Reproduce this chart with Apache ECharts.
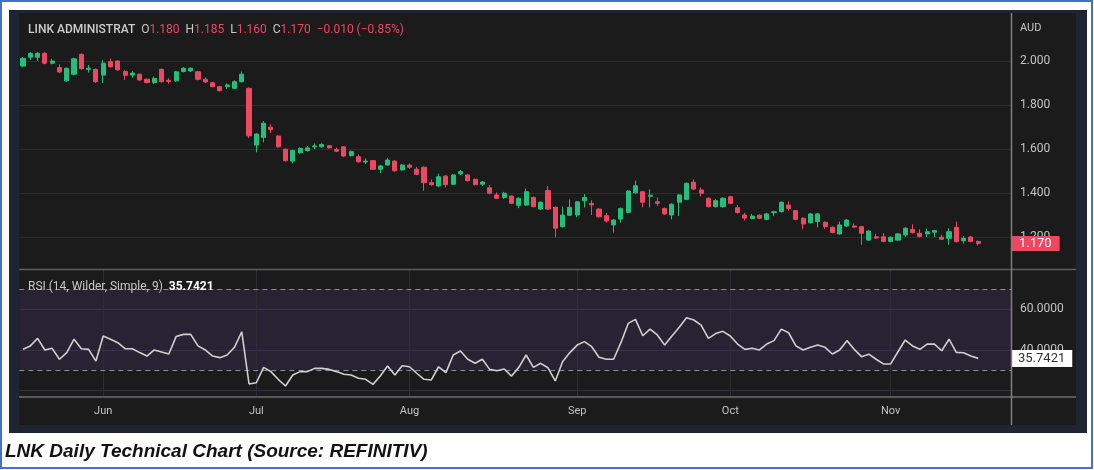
<!DOCTYPE html>
<html><head><meta charset="utf-8">
<script src="https://cdn.jsdelivr.net/npm/echarts@6/dist/echarts.min.js"></script>
<style>html,body{margin:0;padding:0;background:#fff}#c{width:1094px;height:470px}</style>
</head><body><div id="c"></div>
<script>
// ---------- DATA ----------
const datesMay = ['2023-05-17','2023-05-18','2023-05-19','2023-05-22','2023-05-23','2023-05-24','2023-05-25','2023-05-26','2023-05-29','2023-05-30','2023-05-31'];
const datesJun = ['2023-06-01','2023-06-02','2023-06-05','2023-06-06','2023-06-07','2023-06-08','2023-06-09','2023-06-13','2023-06-14','2023-06-15','2023-06-16','2023-06-19','2023-06-20','2023-06-21','2023-06-22','2023-06-23','2023-06-26','2023-06-27','2023-06-28','2023-06-29','2023-06-30'];
const datesJul = ['2023-07-03','2023-07-04','2023-07-05','2023-07-06','2023-07-07','2023-07-10','2023-07-11','2023-07-12','2023-07-13','2023-07-14','2023-07-17','2023-07-18','2023-07-19','2023-07-20','2023-07-21','2023-07-24','2023-07-25','2023-07-26','2023-07-27','2023-07-28','2023-07-31'];
const datesAug = ['2023-08-01','2023-08-02','2023-08-03','2023-08-04','2023-08-07','2023-08-08','2023-08-09','2023-08-10','2023-08-11','2023-08-14','2023-08-15','2023-08-16','2023-08-17','2023-08-18','2023-08-21','2023-08-22','2023-08-23','2023-08-24','2023-08-25','2023-08-28','2023-08-29','2023-08-30','2023-08-31'];
const datesSep = ['2023-09-01','2023-09-04','2023-09-05','2023-09-06','2023-09-07','2023-09-08','2023-09-11','2023-09-12','2023-09-13','2023-09-14','2023-09-15','2023-09-18','2023-09-19','2023-09-20','2023-09-21','2023-09-22','2023-09-25','2023-09-26','2023-09-27','2023-09-28','2023-09-29'];
const datesOct = ['2023-10-02','2023-10-03','2023-10-04','2023-10-05','2023-10-06','2023-10-09','2023-10-10','2023-10-11','2023-10-12','2023-10-13','2023-10-16','2023-10-17','2023-10-18','2023-10-19','2023-10-20','2023-10-23','2023-10-24','2023-10-25','2023-10-26','2023-10-27','2023-10-30','2023-10-31'];
const datesNov = ['2023-11-01','2023-11-02','2023-11-03','2023-11-06','2023-11-07','2023-11-08','2023-11-09','2023-11-10','2023-11-13','2023-11-14','2023-11-15','2023-11-16','2023-11-17'];
const emptySlots = ['2023-11-20','2023-11-21','2023-11-22','2023-11-23'];

const opens = [1.977,2.017,2.017,2.035,1.990,1.970,1.910,1.940,2.030,1.962,1.962,1.936,1.997,2.000,1.952,1.936,1.940,1.917,1.902,1.962,1.912,1.910,1.952,1.955,1.951,1.917,1.901,1.883,1.884,1.876,1.906,
1.876,1.618,1.653,1.699,1.659,1.599,1.545,1.583,1.593,1.610,1.610,1.615,1.598,1.610,1.570,1.565,1.541,1.547,1.508,1.527,1.545,1.505,1.527,1.508,1.517,1.447,1.432,1.477,1.440,1.487,1.482,1.462,1.440,
1.424,1.391,1.380,1.386,1.344,1.345,1.380,1.327,1.411,1.335,1.247,1.299,1.300,1.365,1.353,1.327,1.297,1.255,1.282,1.312,1.401,1.406,1.385,1.360,1.330,1.300,1.358,1.371,1.449,1.414,1.376,1.338,1.338,
1.383,1.333,1.300,1.284,1.299,1.280,1.311,1.315,1.345,1.320,1.285,1.265,1.270,1.267,1.244,1.214,1.250,1.250,1.247,1.186,1.201,1.201,1.180,1.186,1.209,1.235,1.217,1.214,1.222,1.199,1.194,1.244,1.183,1.200,1.180];
const closes = [2.012,2.035,2.035,1.990,2.000,1.950,1.967,2.010,1.965,1.967,1.906,1.990,1.974,1.960,1.935,1.945,1.914,1.902,1.921,1.906,1.907,1.951,1.967,1.967,1.917,1.905,1.884,1.865,1.891,1.906,1.940,
1.660,1.668,1.717,1.688,1.610,1.547,1.593,1.603,1.605,1.614,1.621,1.605,1.590,1.568,1.588,1.542,1.545,1.508,1.523,1.550,1.501,1.527,1.517,1.485,1.447,1.438,1.474,1.438,1.482,1.497,1.456,1.438,1.450,
1.399,1.376,1.399,1.353,1.376,1.406,1.338,1.358,1.327,1.240,1.300,1.335,1.360,1.379,1.346,1.292,1.273,1.277,1.330,1.409,1.433,1.358,1.390,1.353,1.305,1.349,1.391,1.444,1.418,1.399,1.338,1.365,1.376,
1.353,1.311,1.286,1.295,1.285,1.305,1.315,1.358,1.330,1.280,1.259,1.305,1.305,1.247,1.221,1.255,1.277,1.245,1.217,1.227,1.195,1.180,1.199,1.214,1.240,1.220,1.202,1.224,1.229,1.190,1.224,1.179,1.194,1.180,1.170];
const highs = [2.018,2.040,2.040,2.040,2.010,1.985,1.970,2.015,2.035,1.982,1.965,2.005,2.012,2.003,1.958,1.955,1.943,1.920,1.930,1.966,1.922,1.955,1.972,1.970,1.955,1.925,1.905,1.886,1.898,1.912,1.952,
1.880,1.672,1.727,1.712,1.662,1.602,1.597,1.607,1.614,1.625,1.626,1.618,1.606,1.613,1.594,1.575,1.557,1.550,1.527,1.560,1.549,1.532,1.534,1.518,1.521,1.462,1.488,1.481,1.486,1.505,1.486,1.466,1.455,
1.436,1.403,1.405,1.390,1.380,1.421,1.384,1.362,1.433,1.339,1.338,1.371,1.364,1.395,1.367,1.331,1.310,1.281,1.334,1.413,1.456,1.410,1.417,1.380,1.334,1.353,1.395,1.448,1.462,1.425,1.380,1.372,1.380,
1.387,1.345,1.310,1.305,1.303,1.309,1.319,1.362,1.362,1.324,1.289,1.309,1.309,1.271,1.248,1.270,1.281,1.262,1.251,1.231,1.215,1.218,1.203,1.218,1.244,1.258,1.235,1.238,1.233,1.210,1.240,1.270,1.205,1.204,1.185];
const lows = [1.972,2.005,2.000,1.985,1.985,1.945,1.905,1.935,1.960,1.947,1.900,1.900,1.970,1.955,1.914,1.925,1.910,1.898,1.895,1.902,1.897,1.905,1.948,1.950,1.912,1.900,1.880,1.862,1.873,1.872,1.902,
1.650,1.585,1.630,1.672,1.606,1.543,1.535,1.579,1.588,1.600,1.606,1.601,1.586,1.563,1.566,1.538,1.532,1.504,1.490,1.524,1.497,1.501,1.510,1.481,1.410,1.433,1.428,1.425,1.436,1.480,1.452,1.434,1.432,
1.395,1.372,1.373,1.349,1.331,1.341,1.334,1.323,1.323,1.199,1.243,1.295,1.290,1.335,1.300,1.288,1.265,1.220,1.265,1.308,1.397,1.335,1.335,1.340,1.301,1.280,1.295,1.367,1.414,1.385,1.334,1.334,1.334,
1.349,1.307,1.275,1.280,1.281,1.276,1.295,1.311,1.320,1.276,1.235,1.261,1.244,1.237,1.217,1.210,1.246,1.241,1.164,1.182,1.191,1.176,1.176,1.182,1.200,1.216,1.198,1.200,1.200,1.186,1.164,1.175,1.170,1.176,1.160];

const rsiValues = [40.2,41.9,45.6,39.9,40.7,35.3,38.6,45.2,40.5,40.2,34.4,46.8,45.2,43.5,40.5,40.5,38.6,36.9,39.9,38.9,37.9,46.5,47.6,47.6,41.9,39.9,36.9,36.1,37.4,41.2,48.9,
23.1,23.7,31.3,29.2,25.4,22.1,27.5,29.2,29.2,30.8,30.8,30.3,29.2,27.9,27.5,25.9,25.4,
22.9,27.0,32.0,27.5,32.1,31.6,28.4,25.4,25.1,31.6,28.7,37.4,39.4,35.3,33.3,35.3,30.3,29.6,30.5,27.0,31.3,37.4,31.3,33.3,31.1,24.6,34.1,38.6,42.3,44.0,41.5,36.3,35.3,35.3,43.5,53.0,55.0,46.9,50.2,47.3,42.3,46.8,51.1,55.8,54.7,52.2,45.6,48.0,49.1,
46.8,42.8,40.2,40.7,39.9,42.8,44.5,50.2,48.4,41.9,39.9,41.2,42.3,41.2,37.9,39.9,44.5,40.2,36.6,37.8,35.3,33.0,33.0,39.0,44.8,41.9,40.2,42.8,42.8,39.5,45.2,38.7,38.5,36.9,35.7421];

const priceTickMin = 1.0, priceTickMax = 2.2, priceTickStep = 0.2;
const pricePaneTop = 2.218, pricePaneBottom = 1.059;
const rsiTickMin = 0, rsiTickMax = 80, rsiTickStep = 20, rsiLabelTicks = [40, 60];
const rsiUpper = 70, rsiLower = 30, rsiPaneBottom = 17.2;
const monthNames = {'06':'Jun','07':'Jul','08':'Aug','09':'Sep','10':'Oct','11':'Nov'};
const instrumentName = 'LINK ADMINISTRAT';
const currency = 'AUD';
const rsiTitle = 'RSI (14, Wilder, Simple, 9)';
const caption = 'LNK Daily Technical Chart (Source: REFINITIV)';

// ---------- BUILD ----------
const tradeDates = [].concat(datesMay, datesJun, datesJul, datesAug, datesSep, datesOct, datesNov);
const categories = tradeDates.concat(emptySlots);
const candleData = opens.map((o, i) => [o, closes[i], lows[i], highs[i]]);
const isMonthStart = i => i > 0 && i < tradeDates.length && categories[i].slice(5,7) !== categories[i-1].slice(5,7);
const monthStarts = categories.filter((d, i) => isMonthStart(i));

const n = closes.length;
const lastO = opens[n-1], lastH = highs[n-1], lastL = lows[n-1], lastC = closes[n-1];
const chg = lastC - closes[n-2];
const pct = chg / closes[n-2] * 100;
const fmtSigned = (v, d) => (v < 0 ? '\u2212' : '+') + Math.abs(v).toFixed(d);
const lastRsi = rsiValues[rsiValues.length-1];

const GREEN = '#22c07a', RED = '#ee4762';
const GRIDC = '#2c2c2c';
const FONT = 'Roboto, "Noto Sans", sans-serif';
const HIDDEN_LINE = {color: 'rgba(0,0,0,0)', width: 0, type: 'solid'};

const chart = echarts.init(document.getElementById('c'), null, {renderer: 'canvas'});
const plotLeft = 19.35, plotRight = 1094 - 1011;

const option = {
  backgroundColor: '#ffffff',
  animation: false,
  textStyle: {fontFamily: FONT},
  grid: [
    {left: plotLeft, right: plotRight, top: 17, height: 264},
    {left: plotLeft, right: plotRight, top: 268.75, height: 162}
  ],
  xAxis: [
    {type: 'category', gridIndex: 0, data: categories, boundaryGap: true,
     axisLine: {show: false}, axisTick: {show: false}, axisLabel: {show: false}, splitLine: {show: false}},
    {type: 'category', gridIndex: 1, data: categories, boundaryGap: true, offset: -34,
     axisLine: {show: false}, axisTick: {show: false}, splitLine: {show: false},
     axisLabel: {show: true, interval: (i) => isMonthStart(i), formatter: v => monthNames[v.slice(5,7)] || '',
       color: '#c2c2c2', fontSize: 11, margin: 9, fontFamily: FONT}}
  ],
  yAxis: [
    {type: 'value', gridIndex: 0, position: 'right', min: priceTickMin, max: priceTickMax, interval: priceTickStep,
     axisLine: {show: false}, axisTick: {show: false},
     axisLabel: {show: true, formatter: v => v.toFixed(3), color: '#c4c4c4', fontSize: 12, margin: 9, showMinLabel: false, showMaxLabel: false, fontFamily: FONT},
     splitLine: {show: true, showMinLine: false, showMaxLine: false, lineStyle: {color: GRIDC, width: 1}}},
    {type: 'value', gridIndex: 1, position: 'right', min: rsiTickMin, max: rsiTickMax, interval: rsiTickStep,
     axisLine: {show: false}, axisTick: {show: false},
     axisLabel: {show: true, formatter: v => rsiLabelTicks.indexOf(v) >= 0 ? v.toFixed(4) : '', color: '#c4c4c4', fontSize: 12, margin: 9, fontFamily: FONT},
     splitLine: {show: true, showMinLine: false, showMaxLine: false, lineStyle: {color: '#333038', width: 1}}}
  ],
  series: [
    {
      type: 'candlestick', xAxisIndex: 0, yAxisIndex: 0, data: candleData,
      barWidth: 4.6,
      itemStyle: {color: GREEN, color0: RED, borderColor: GREEN, borderColor0: RED, borderWidth: 1},
      markLine: {
        silent: true, symbol: ['none','none'], animation: false,
        data: monthStarts.map(d => [
          {coord: [d, pricePaneTop], lineStyle: {color: GRIDC, width: 1, type: 'solid'}, label: {show: false}},
          {coord: [d, pricePaneBottom]}
        ]).concat([
          {yAxis: lastC, lineStyle: HIDDEN_LINE, label: {show: true, position: 'end', distance: 0,
            formatter: lastC.toFixed(3), color: '#ffffff', backgroundColor: RED, padding: [1, 8, 1, 8],
            fontSize: 13, fontFamily: FONT, borderRadius: 1}}
        ])
      }
    },
    {
      type: 'line', xAxisIndex: 1, yAxisIndex: 1, data: rsiValues, symbol: 'none', z: 5,
      lineStyle: {color: '#cfcfcf', width: 1.6},
      markArea: {silent: true, itemStyle: {color: 'rgba(82,58,128,0.24)'},
        data: [[{yAxis: rsiLower}, {yAxis: rsiUpper}]]},
      markLine: {
        silent: true, symbol: ['none','none'], animation: false,
        data: monthStarts.map(d => [
          {coord: [d, rsiTickMax], lineStyle: {color: '#302c36', width: 1, type: 'solid'}, label: {show: false}},
          {coord: [d, rsiPaneBottom]}
        ]).concat([
          {yAxis: rsiUpper, lineStyle: {color: '#8f8f8f', width: 1, type: [5, 4]}, label: {show: false}},
          {yAxis: rsiLower, lineStyle: {color: '#8f8f8f', width: 1, type: [5, 4]}, label: {show: false}},
          {yAxis: lastRsi, lineStyle: HIDDEN_LINE, label: {show: true, position: 'end', distance: 0,
            formatter: lastRsi.toFixed(4), color: '#333333', backgroundColor: '#ffffff', padding: [2, 7, 2, 7],
            fontSize: 13, fontFamily: FONT}}
        ])
      }
    }
  ],
  graphic: [
    {type: 'rect', z: -20, silent: true, shape: {x: 1, y: 1, width: 1091, height: 467},
     style: {fill: '#ffffff', stroke: '#4472c4', lineWidth: 2}},
    {type: 'rect', z: -19, silent: true, shape: {x: 9, y: 10, width: 1078, height: 423}, style: {fill: '#1e2431'}},
    {type: 'rect', z: -18, silent: true, shape: {x: 19, y: 13, width: 1057, height: 412}, style: {fill: '#1b1b1b'}},
    {type: 'line', z: 50, silent: true, shape: {x1: 19, y1: 269.5, x2: 1076, y2: 269.5}, style: {stroke: '#5e5e5e', lineWidth: 1.5}},
    {type: 'line', z: 50, silent: true, shape: {x1: 19, y1: 397, x2: 1076, y2: 397}, style: {stroke: '#707070', lineWidth: 1.5}},
    {type: 'line', z: 50, silent: true, shape: {x1: 1011.5, y1: 13, x2: 1011.5, y2: 425}, style: {stroke: '#7f7f7f', lineWidth: 1.5}},
    {type: 'text', z: 60, silent: true, x: 28, y: 30,
     style: {text: '{n|' + instrumentName + '}  {k|O}{v|' + lastO.toFixed(3) + '}  {k|H}{v|' + lastH.toFixed(3) + '}  {k|L}{v|' + lastL.toFixed(3) + '}  {k|C}{v|' + lastC.toFixed(3) + '}  {v|' + fmtSigned(chg, 3) + ' (' + fmtSigned(pct, 2) + '%)}',
       verticalAlign: 'middle', font: '12px ' + FONT,
       rich: {n: {fill: '#cccccc', fontSize: 12, fontWeight: 500, fontFamily: FONT}, k: {fill: '#c8c8c8', fontSize: 12, fontFamily: FONT}, v: {fill: RED, fontSize: 12, fontFamily: FONT}}}},
    {type: 'text', z: 60, silent: true, x: 1020, y: 28,
     style: {text: currency, fill: '#c4c4c4', font: '11px ' + FONT, verticalAlign: 'middle'}},
    {type: 'text', z: 60, silent: true, x: 28, y: 287,
     style: {text: '{k|' + rsiTitle + '}  {v|' + lastRsi.toFixed(4) + '}', verticalAlign: 'middle', font: '12px ' + FONT,
       rich: {k: {fill: '#c8c8c8', fontSize: 12, fontFamily: FONT}, v: {fill: '#ffffff', fontSize: 12, fontWeight: 'bold', fontFamily: FONT}}}},
    {type: 'text', z: 60, silent: true, x: 5, y: 452,
     style: {text: caption, fill: '#111111', font: 'italic bold 19px "Liberation Sans Narrow", "Liberation Sans", sans-serif', verticalAlign: 'middle'}}
  ]
};
chart.setOption(option);
</script></body></html>
